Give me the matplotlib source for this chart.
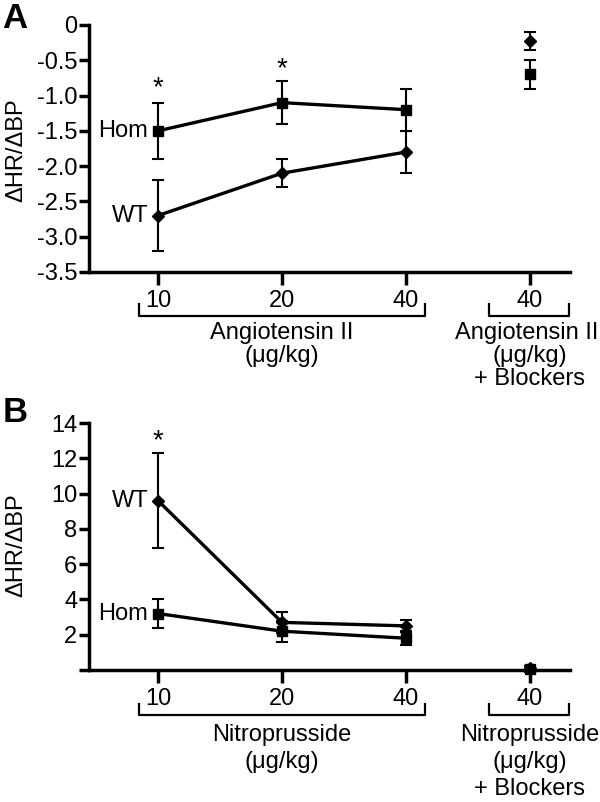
import matplotlib
matplotlib.use("Agg")
import matplotlib.pyplot as plt
from matplotlib.transforms import blended_transform_factory

plt.rcParams['font.family'] = ['Liberation Sans', 'DejaVu Sans']

# ---- data ----
positions = [1, 2, 3]
blocker_pos = 4
x_tick_positions = [1, 2, 3, 4]
x_tick_labels = ['10', '20', '40', '40']

a_hom = [-1.5, -1.1, -1.2]
a_hom_err = [0.4, 0.3, 0.3]
a_wt = [-2.7, -2.1, -1.8]
a_wt_err = [0.5, 0.2, 0.3]
a_hom_blk = -0.7
a_hom_blk_err = 0.2
a_wt_blk = -0.23
a_wt_blk_err = 0.13
a_yticks = [0, -0.5, -1.0, -1.5, -2.0, -2.5, -3.0, -3.5]
a_yticklabels = ['0', '-0.5', '-1.0', '-1.5', '-2.0', '-2.5', '-3.0', '-3.5']
a_star_pos = [1, 2]
a_star_y = [-0.9, -0.62]

b_wt = [9.6, 2.7, 2.5]
b_wt_err = [2.7, 0.6, 0.35]
b_hom = [3.2, 2.2, 1.8]
b_hom_err = [0.8, 0.6, 0.4]
b_wt_blk = 0.1
b_wt_blk_err = 0.15
b_hom_blk = 0.05
b_hom_blk_err = 0.15
b_yticks = [0, 2, 4, 6, 8, 10, 12, 14]
b_yticklabels = ['', '2', '4', '6', '8', '10', '12', '14']
b_star_pos = [1]
b_star_y = [12.95]

W, H = 600, 802
fig = plt.figure(figsize=(W / 100, H / 100), dpi=100)

FS = 17
LW_SP = 2.5

def fy(py):
    return 1 - py / H

def setup(ax, ylim, yticks, yticklabels):
    ax.set_xlim(0.4435, 4.3226)
    ax.set_ylim(*ylim)
    for s in ['top', 'right']:
        ax.spines[s].set_visible(False)
    for s in ['left', 'bottom']:
        ax.spines[s].set_linewidth(LW_SP)
    ax.set_yticks(yticks)
    ax.set_yticklabels(yticklabels, fontsize=FS)
    ax.set_xticks(x_tick_positions)
    ax.set_xticklabels(x_tick_labels, fontsize=FS)
    ax.tick_params(axis='y', length=7, width=LW_SP, pad=1.5)
    ax.tick_params(axis='x', length=9, width=LW_SP, pad=4)
    ax.patch.set_visible(False)

def series(ax, x, y, e, marker, ms):
    ax.errorbar(x, y, yerr=e, color='black', lw=2.4, marker=marker, ms=ms,
                elinewidth=1.5, capsize=4.5, capthick=1.5, clip_on=False, zorder=3)

def point(ax, x, y, e, marker, ms):
    ax.errorbar([x], [y], yerr=[e], color='black', lw=0, marker=marker, ms=ms,
                elinewidth=1.5, capsize=4.5, capthick=1.5, clip_on=False, zorder=3)

def brackets(ax, y_br, y_end, lines):
    tr = blended_transform_factory(ax.transData, fig.transFigure)
    for x0, x1 in [(0.847, 3.153), (3.67, 4.315)]:
        ax.plot([x0, x0, x1, x1], [fy(y_end), fy(y_br), fy(y_br), fy(y_end)],
                color='black', lw=1.6, transform=tr, clip_on=False)
    for x, txt, py in lines:
        if x is None:
            fig.text(598 / W, fy(py), txt, ha='right', va='center', fontsize=FS)
        else:
            ax.text(x, fy(py), txt, transform=tr, ha='center', va='center', fontsize=FS)

# ---- Panel A ----
axA = fig.add_axes([89 / W, fy(272), (570 - 89) / W, (272 - 25) / H])
setup(axA, (-3.5, 0), a_yticks, a_yticklabels)
series(axA, positions, a_hom, a_hom_err, 's', 6.5)
series(axA, positions, a_wt, a_wt_err, 'D', 6.5)
point(axA, blocker_pos, a_hom_blk, a_hom_blk_err, 's', 6.5)
point(axA, blocker_pos, a_wt_blk, a_wt_blk_err, 'D', 6.5)
for xp, yp in zip(a_star_pos, a_star_y):
    axA.text(xp, yp, '*', ha='center', va='center', fontsize=20)
axA.text(0.92, a_hom[0], 'Hom', ha='right', va='center', fontsize=FS)
axA.text(0.92, a_wt[0], 'WT', ha='right', va='center', fontsize=FS)
brackets(axA, 316, 304, [
    (2, 'Angiotensin II', 333), (2, '(\u03bcg/kg)', 356),
    (None, 'Angiotensin II', 333), (4, '(\u03bcg/kg)', 356), (4, '+ Blockers', 379)])
fig.text(15 / W, fy(19), 'A', fontsize=25, fontweight='bold', ha='center', va='center')
fig.text(16 / W, fy(150), '\u0394HR/\u0394BP', rotation=90, fontsize=FS, ha='center', va='center')

# ---- Panel B ----
axB = fig.add_axes([89 / W, fy(670), (570 - 89) / W, (670 - 423) / H])
setup(axB, (0, 14), b_yticks, b_yticklabels)
series(axB, positions, b_wt, b_wt_err, 'D', 6.5)
series(axB, positions, b_hom, b_hom_err, 's', 6.5)
point(axB, blocker_pos, b_wt_blk, b_wt_blk_err, 'D', 6.5)
point(axB, blocker_pos, b_hom_blk, b_hom_blk_err, 's', 6.5)
for xp, yp in zip(b_star_pos, b_star_y):
    axB.text(xp, yp, '*', ha='center', va='center', fontsize=20)
axB.text(0.92, b_wt[0], 'WT', ha='right', va='center', fontsize=FS)
axB.text(0.92, b_hom[0], 'Hom', ha='right', va='center', fontsize=FS)
brackets(axB, 715, 704, [
    (2, 'Nitroprusside', 735), (2, '(\u03bcg/kg)', 762),
    (4, 'Nitroprusside', 735), (4, '(\u03bcg/kg)', 762), (4, '+ Blockers', 789)])
fig.text(15 / W, fy(412), 'B', fontsize=25, fontweight='bold', ha='center', va='center')
fig.text(16 / W, fy(545), '\u0394HR/\u0394BP', rotation=90, fontsize=FS, ha='center', va='center')

fig.savefig('out.png', dpi=100)
